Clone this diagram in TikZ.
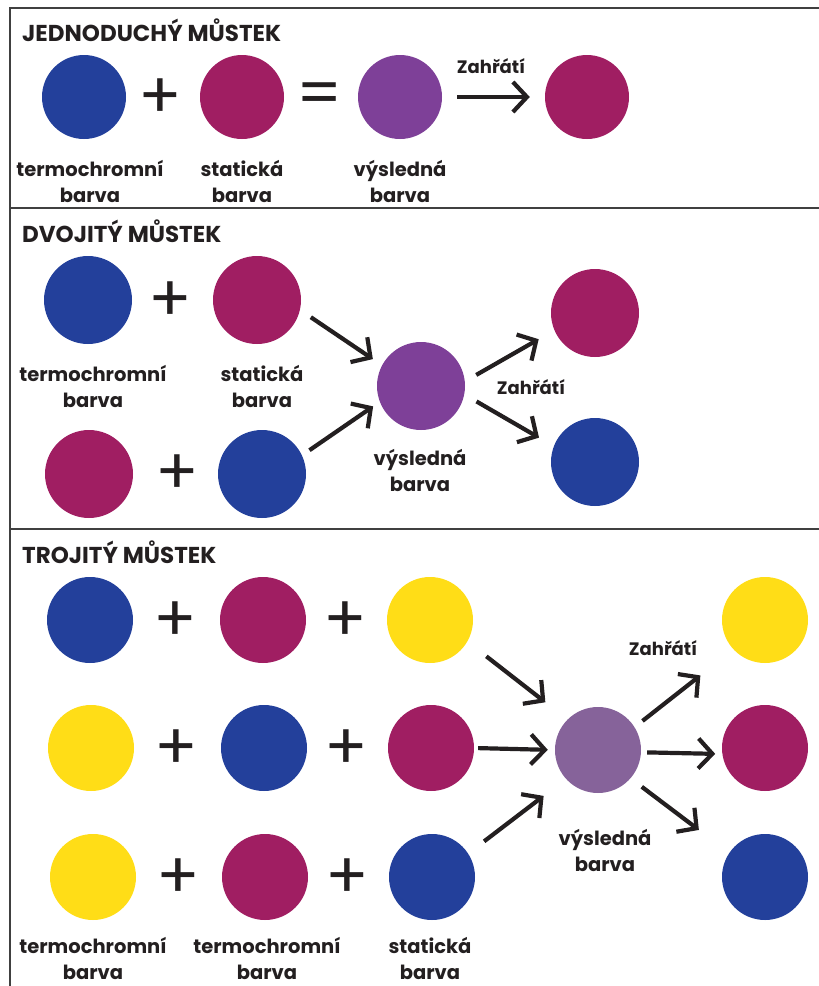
\documentclass[tikz,border=0pt]{standalone}
\usepackage{fontspec}
\setmainfont{Poppins}
\usetikzlibrary{arrows.meta}

\definecolor{tblue}{RGB}{35,64,155}
\definecolor{tmagenta}{RGB}{160,30,98}
\definecolor{tpurple}{RGB}{126,64,152}
\definecolor{tlilac}{RGB}{134,99,154}
\definecolor{tyellow}{RGB}{255,221,23}
\definecolor{ink}{RGB}{35,31,32}

\tikzstyle{every node}=[text=ink, font={\bfseries\fontsize{18}{25}\selectfont}]
\tikzstyle{dot}=[circle, inner sep=0pt, minimum size=86pt]
\tikzstyle{bluedot}=[dot, fill=tblue]
\tikzstyle{reddot}=[dot, fill=tmagenta]
\tikzstyle{mixdot}=[dot, fill=tpurple]
\tikzstyle{yellowdot}=[dot, fill=tyellow]
\tikzstyle{sign}=[inner sep=0pt, font={\fontsize{64}{64}\selectfont}]
\tikzstyle{caption}=[align=center, inner sep=0pt, font={\bfseries\fontsize{19.5}{26}\selectfont}]
\tikzstyle{heading}=[anchor=west, inner sep=0pt, font={\bfseries\fontsize{23}{23}\selectfont}]
\tikzstyle{flow}=[line width=4.2pt, draw=ink, -{Straight Barb[length=14pt,width=30pt]}]
\tikzstyle{frame}=[line width=1.5pt, draw=black!75]

\begin{document}
\begin{tikzpicture}[x=1pt, y=-1pt]
    \useasboundingbox (0,0) rectangle (819,986);

    % frame
    \draw [frame] (819,8) -- (10,8) -- (10,986);
    \draw [frame] (10,208) -- (819,208);
    \draw [frame] (10,529) -- (819,529);

    % jednoduchy mustek
    \node [heading] (h1) at (22,30) {JEDNODUCHÝ MŮSTEK};
    \node [bluedot, minimum size=84pt] (s1a) at (84,97) {};
    \node [sign] (p1) at (160,99) {+};
    \node [reddot, minimum size=84pt] (s1b) at (242,97) {};
    \node [sign] (e1) at (320,99) {=};
    \node [mixdot, minimum size=84pt] (s1c) at (400,97) {};
    \node [reddot, minimum size=84pt] (s1d) at (587,97) {};
    \node [caption] (t1a) at (90,181) {termochromní\\barva};
    \node [caption] (t1b) at (242,181) {statická\\barva};
    \node [caption] (t1c) at (400,181) {výsledná\\barva};
    \node (z1) at (491,66) {Zahřátí};
    \draw [flow, shorten <=15pt, shorten >=15pt] (s1c) -- (s1d);

    % dvojity mustek
    \node [heading] (h2) at (22,231) {DVOJITÝ MŮSTEK};
    \node [bluedot, minimum size=88pt] (s2a) at (88,300) {};
    \node [sign] (p2a) at (170,302) {+};
    \node [reddot, minimum size=88pt] (s2b) at (257,300) {};
    \node [reddot, minimum size=88pt] (s2c) at (89,474) {};
    \node [sign] (p2b) at (177,475) {+};
    \node [bluedot, minimum size=88pt] (s2d) at (262,474) {};
    \node [mixdot, minimum size=88pt] (s2m) at (421,386) {};
    \node [reddot, minimum size=88pt] (s2e) at (595,313) {};
    \node [bluedot, minimum size=88pt] (s2f) at (595,462) {};
    \node [caption] (t2a) at (93,386) {termochromní\\barva};
    \node [caption] (t2b) at (262,386) {statická\\barva};
    \node [caption] (t2m) at (420,470) {výsledná\\barva};
    \node (z2) at (531,387) {Zahřátí};
    \draw [flow, shorten <=13pt, shorten >=11pt] (s2b.-13) -- (s2m.152);
    \draw [flow, shorten <=9pt, shorten >=8pt] (s2d.25) -- (s2m.201);
    \draw [flow, shorten <=13pt, shorten >=18pt] (s2m.6) -- (s2e.203);
    \draw [flow, shorten <=14pt, shorten >=17pt] (s2m.-11) -- (s2f.159);

    % trojity mustek
    \node [heading] (h3) at (22,552) {TROJITÝ MŮSTEK};
    \node [bluedot] (s3a) at (90,620) {};
    \node [sign] (p3a) at (175,622) {+};
    \node [reddot] (s3b) at (263,620) {};
    \node [sign] (p3b) at (345,622) {+};
    \node [yellowdot] (s3c) at (430,620) {};
    \node [yellowdot] (s3d) at (91,748) {};
    \node [sign] (p3c) at (176,750) {+};
    \node [bluedot] (s3e) at (264,748) {};
    \node [sign] (p3d) at (346,750) {+};
    \node [reddot] (s3f) at (431,748) {};
    \node [yellowdot] (s3g) at (93,877) {};
    \node [sign] (p3e) at (178,879) {+};
    \node [reddot] (s3h) at (265,877) {};
    \node [sign] (p3f) at (347,879) {+};
    \node [bluedot] (s3i) at (432,877) {};
    \node [dot, fill=tlilac] (s3m) at (598,750) {};
    \node [yellowdot] (s3x) at (765,620) {};
    \node [reddot] (s3y) at (765,748) {};
    \node [bluedot] (s3z) at (765,877) {};
    \node [caption] (t3a) at (93,958) {termochromní\\barva};
    \node [caption] (t3b) at (267,958) {termochromní\\barva};
    \node [caption] (t3c) at (430,958) {statická\\barva};
    \node [caption] (t3m) at (605,850) {výsledná\\barva};
    \node (z3) at (663,648) {Zahřátí};
    \draw [flow, shorten <=24pt, shorten >=28pt] (s3c.-30) -- (s3m.135);
    \draw [flow, shorten <=4pt, shorten >=7pt] (s3f.0) -- (s3m.180);
    \draw [flow, shorten <=20pt, shorten >=28pt] (s3i.33) -- (s3m.222);
    \draw [flow, shorten <=10pt, shorten >=42pt] (s3m.32) -- (s3x.223);
    \draw [flow, shorten <=6pt, shorten >=7pt] (s3m.-3) -- (s3y.188);
    \draw [flow, shorten <=14pt, shorten >=38pt] (s3m.-41) -- (s3z.146);
\end{tikzpicture}
\end{document}
